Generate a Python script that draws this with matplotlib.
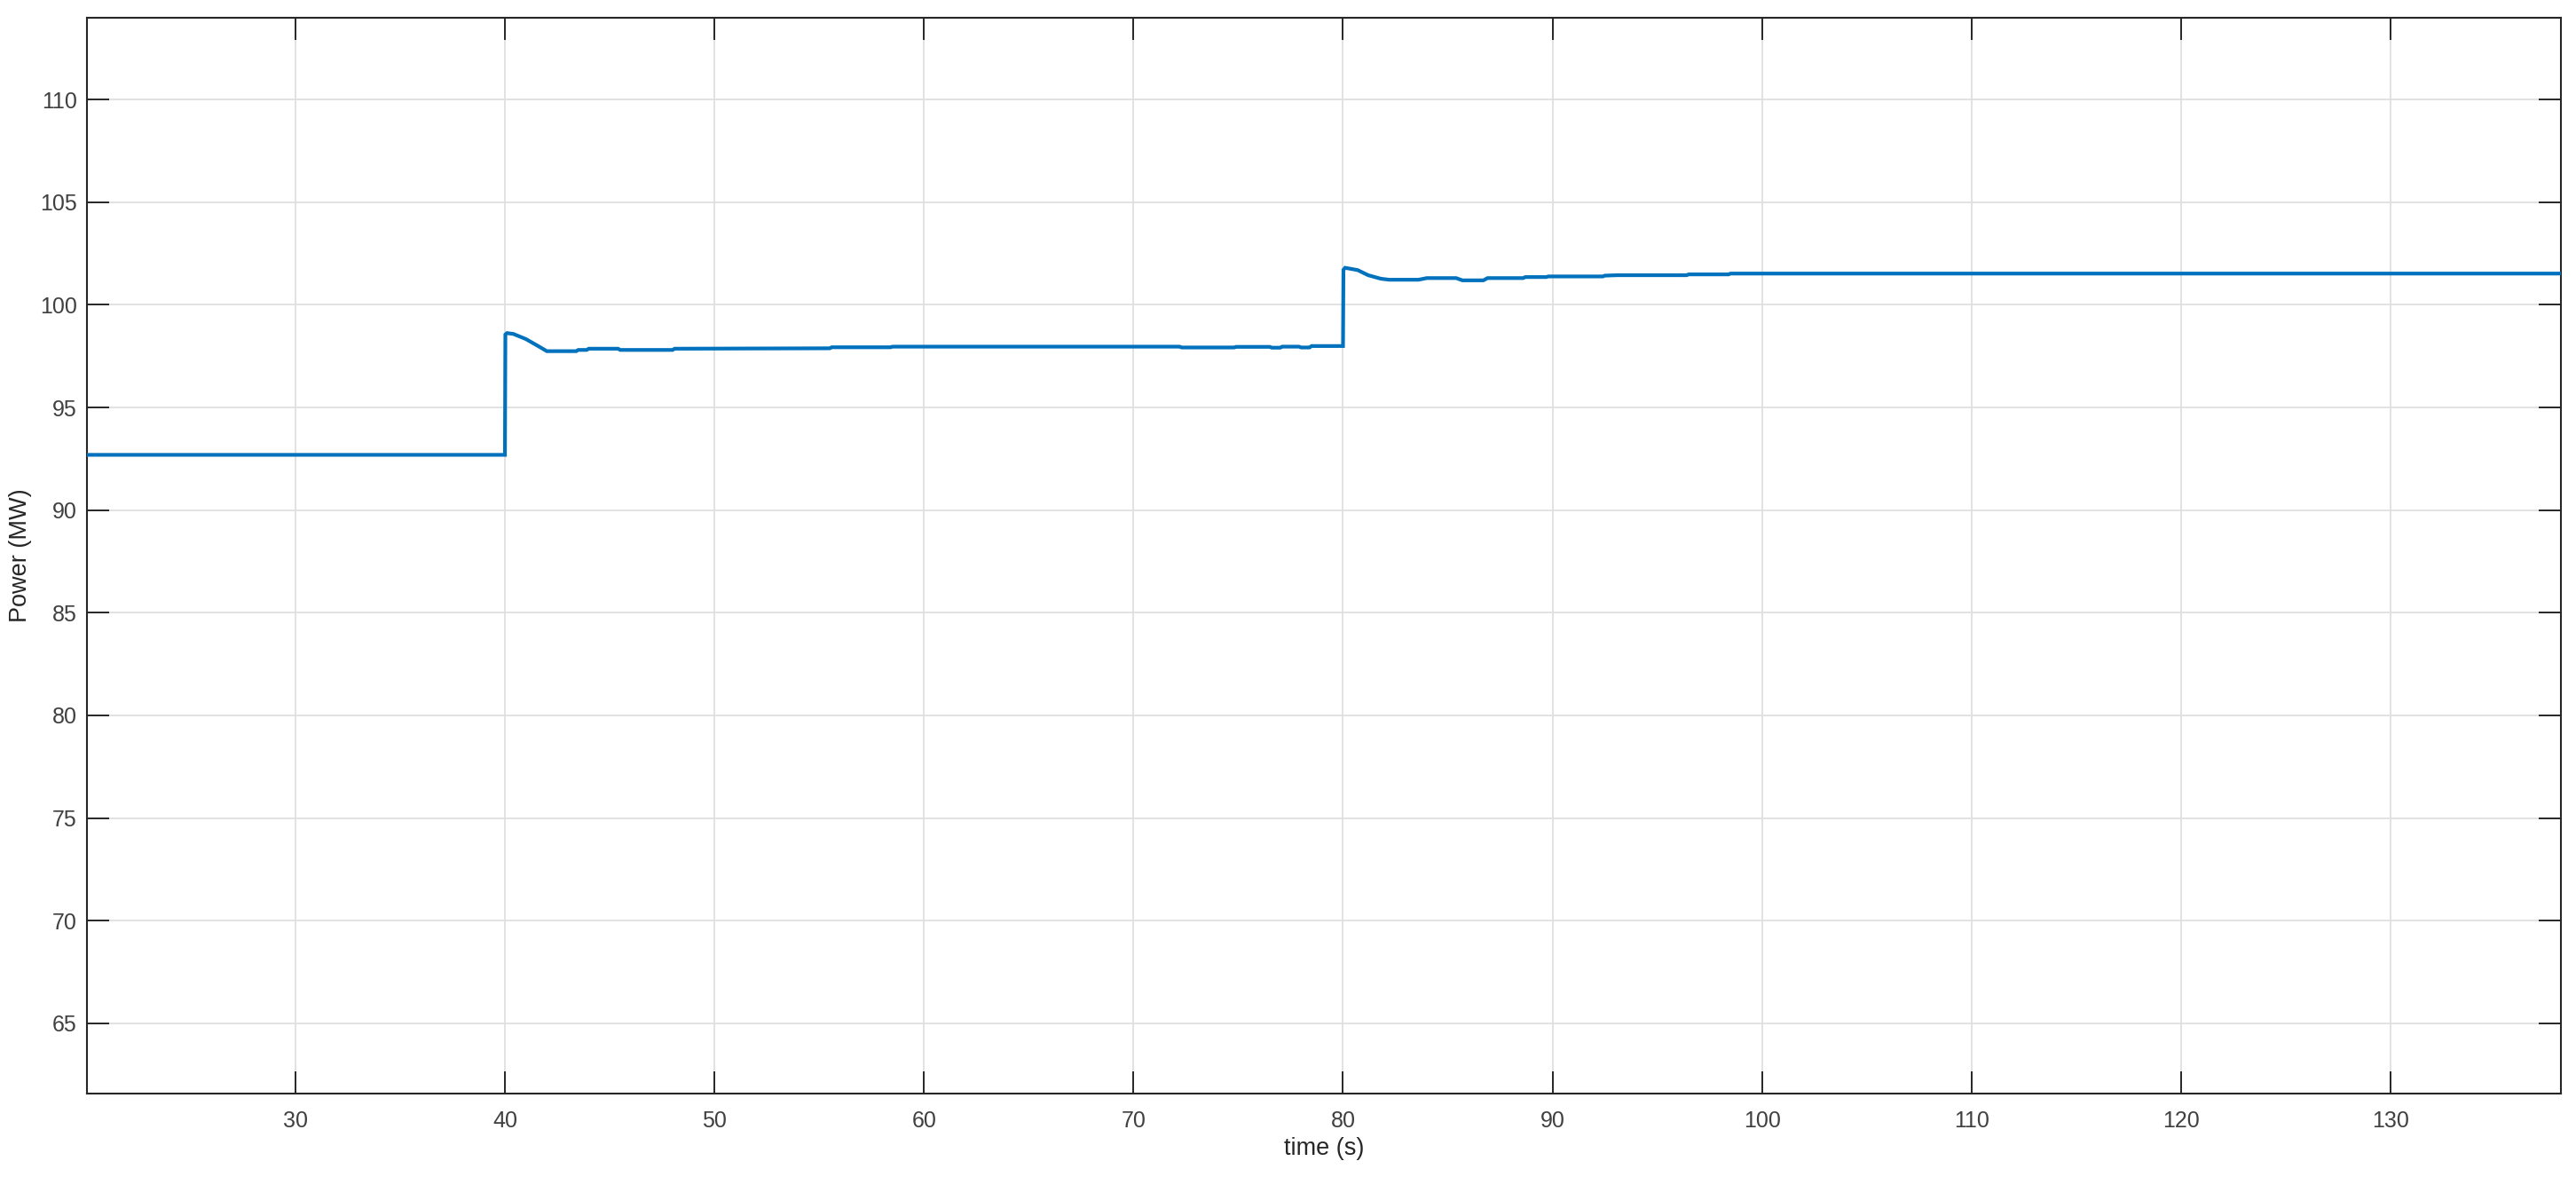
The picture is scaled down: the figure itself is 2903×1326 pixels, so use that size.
import matplotlib
matplotlib.use("Agg")
import matplotlib.pyplot as plt

# ---- data ----
time_s = [20.0, 40.0, 40.02, 40.1, 40.4, 41.0, 41.6, 42.0, 43.4, 43.5, 43.9, 44.0,
          45.4, 45.5, 48.0, 48.1, 55.5, 55.6, 58.4, 58.5, 72.2, 72.3, 74.8, 74.9,
          76.5, 76.6, 77.0, 77.1, 77.9, 78.0, 78.4, 78.5, 80.0, 80.02, 80.1, 80.7,
          81.2, 81.8, 82.2, 83.6, 84.0, 85.4, 85.7, 86.7, 86.9, 88.6, 88.7, 89.7,
          89.8, 92.4, 92.5, 93.1, 96.4, 96.5, 98.4, 98.5, 138.2]
power_mw = [92.69, 92.69, 98.55, 98.62, 98.58, 98.33, 97.98, 97.74, 97.74, 97.80, 97.80, 97.86,
            97.86, 97.80, 97.80, 97.86, 97.88, 97.93, 97.93, 97.96, 97.96, 97.92, 97.92, 97.95,
            97.95, 97.91, 97.91, 97.96, 97.96, 97.92, 97.92, 97.99, 97.99, 101.70, 101.80, 101.69,
            101.44, 101.27, 101.22, 101.22, 101.30, 101.30, 101.19, 101.19, 101.30, 101.30, 101.35, 101.35,
            101.38, 101.38, 101.42, 101.44, 101.44, 101.48, 101.48, 101.52, 101.52]

x_ticks = [30, 40, 50, 60, 70, 80, 90, 100, 110, 120, 130]
y_ticks = [65, 70, 75, 80, 85, 90, 95, 100, 105, 110]
x_label = "time (s)"
y_label = "Power (MW)"

# ---- style ----
plt.rcParams['font.family'] = ['Liberation Sans', 'DejaVu Sans']
axis_col = '#262626'
grid_col = '#dfdfdf'

fig = plt.figure(figsize=(29.03, 13.26), dpi=100)
ax = fig.add_axes([98/2903, (1326-1232)/1326, (2886-98)/2903, (1232-20)/1326])

ax.plot(time_s, power_mw, color='#0072BD', lw=3.0, solid_joinstyle='miter', zorder=3)

ax.set_xlim(20.05, 138.13)
ax.set_ylim(61.58, 113.98)
ax.set_xticks(x_ticks)
ax.set_yticks(y_ticks)

ax.grid(True, color=grid_col, lw=1.3)
ax.set_axisbelow(True)

for s in ax.spines.values():
    s.set_color(axis_col)
    s.set_linewidth(1.5)

ax.tick_params(direction='in', length=18, width=1.4, color=axis_col,
               top=True, right=True, labelsize=18, labelcolor='#404040')
ax.tick_params(axis='x', pad=14)
ax.tick_params(axis='y', pad=8)
ax.set_xlabel(x_label, fontsize=19.5, color='#262626', labelpad=4)
ax.set_ylabel(y_label, fontsize=19.5, color='#262626', labelpad=6.5)

fig.savefig("out.png", dpi=100, facecolor='white')
